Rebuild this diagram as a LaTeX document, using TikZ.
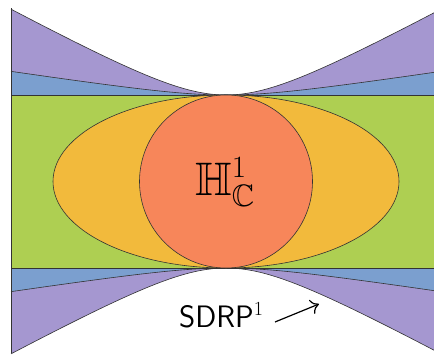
\RequirePackage{fix-cm}
\documentclass[tikz,border=0pt]{standalone}
\usepackage{amssymb}
\usetikzlibrary{arrows.meta,shapes.geometric}

\DeclareMathSizes{47}{47}{31}{24}
\DeclareMathSizes{31}{31}{20}{15}

\definecolor{lilac}{HTML}{A597D0}
\definecolor{skyband}{HTML}{7B9FCF}
\definecolor{leaf}{HTML}{AECF52}
\definecolor{amber}{HTML}{F2BA3C}
\definecolor{coral}{HTML}{F7865A}
\definecolor{edge}{HTML}{333333}

\tikzset{
  region/.style={draw=edge, line width=0.6pt},
  label/.style={inner sep=0pt, text=black},
}

% hyperbolic profiles, tangent at x = 226
\newcommand{\hyp}[1]{(sqrt(1+((#1-226)/70)^2)-1)}

\begin{document}
\begin{tikzpicture}[x=1pt, y=-1pt]
  \useasboundingbox (0,0) rectangle (434,354);
  \clip (0,0) rectangle (434,354);

  % outer (purple) bands
  \fill[lilac] plot[domain=11:440, samples=120] (\x, {95-38.5*\hyp{\x}}) -- (440,95) -- (11,95) -- cycle;
  \fill[lilac] plot[domain=11:440, samples=120] (\x, {268+38.5*\hyp{\x}}) -- (440,268) -- (11,268) -- cycle;

  % inner (blue) bands
  \fill[skyband] plot[domain=11:440, samples=120] (\x, {95-10.6*\hyp{\x}}) -- (440,95) -- (11,95) -- cycle;
  \fill[skyband] plot[domain=11:440, samples=120] (\x, {268+10.6*\hyp{\x}}) -- (440,268) -- (11,268) -- cycle;

  % outlines of the bands
  \draw[region] plot[domain=11:440, samples=120] (\x, {95-38.5*\hyp{\x}});
  \draw[region] plot[domain=11:440, samples=120] (\x, {268+38.5*\hyp{\x}});
  \draw[region] plot[domain=11:440, samples=120] (\x, {95-10.6*\hyp{\x}});
  \draw[region] plot[domain=11:440, samples=120] (\x, {268+10.6*\hyp{\x}});

  % green strip
  \filldraw[region, fill=leaf] (11,95) rectangle (440,268);

  % ellipse and disc
  \node[region, fill=amber, ellipse, minimum width=346pt, minimum height=173pt, inner sep=0pt] (ell) at (226,181.5) {};
  \node[region, fill=coral, circle, minimum size=173pt, inner sep=0pt] (disc) at (226,181.5) {};

  % left border
  \draw[region] (11,8) -- (11,353);

  % labels
  \node[label, anchor=base west, font=\fontsize{47}{50}\selectfont] (hc) at (195,195) {$\mathbb{H}^1_{\mathbb{C}}$};
  \node[label, anchor=base west, font=\fontsize{31}{34}\selectfont] (sdrp) at (179,327) {\textsf{SDRP}$^1$};

  \coordinate (tail) at (275,322);
  \coordinate (tip) at (319,304);
  \draw[line width=1.2pt, -{To[length=8pt, width=15pt]}] (tail) -- (tip);
\end{tikzpicture}
\end{document}
